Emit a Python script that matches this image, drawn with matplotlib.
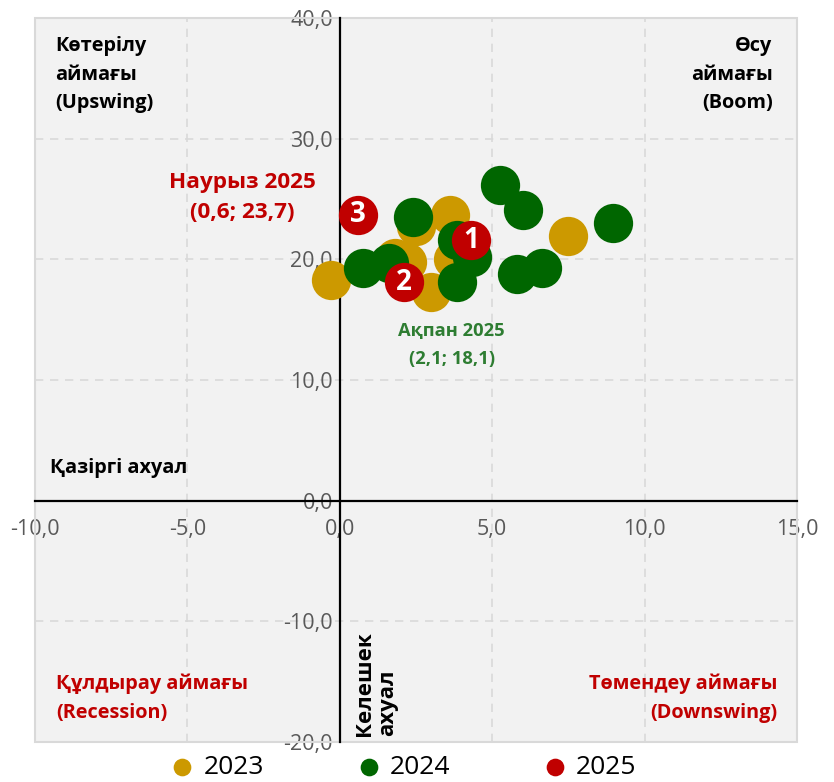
import matplotlib.pyplot as plt
from matplotlib.patches import Rectangle
from matplotlib.ticker import FuncFormatter

plt.rcParams['font.family'] = ['Open Sans', 'DejaVu Sans']

# 2023 points (x, y)
x_2023 = [-0.3, 2.5, 3.6, 7.5, 1.8, 2.2, 3.0, 3.7]
y_2023 = [18.3, 22.8, 23.7, 21.9, 20.1, 19.8, 17.3, 20.0]

# 2024 points
x_2024 = [5.25, 6.0, 8.95, 2.4, 3.85, 4.35, 0.75, 1.6, 3.85, 5.8, 6.65]
y_2024 = [26.2, 24.1, 23.0, 23.5, 21.6, 20.2, 19.3, 19.7, 18.1, 18.8, 19.3]

# 2025 points with labels
x_2025 = [4.3, 2.1, 0.6]
y_2025 = [21.6, 18.1, 23.7]
lbl_2025 = ['1', '2', '3']

xticks = [-10, -5, 0, 5, 10, 15]
yticks = [-20, -10, 0, 10, 20, 30, 40]

c23 = '#cc9900'
c24 = '#006600'
c25 = '#c00000'

fig = plt.figure(figsize=(8.34, 7.82), dpi=100)
ax = fig.add_axes([35/834, 1 - 742/782, 762/834, 724/782])
ax.set_xlim(-10, 15)
ax.set_ylim(-20, 40)
ax.set_facecolor('#f2f2f2')

for s in ['top', 'right']:
    ax.spines[s].set_visible(False)
ax.spines['left'].set_position(('data', 0))
ax.spines['bottom'].set_position(('data', 0))
for s in ['left', 'bottom']:
    ax.spines[s].set_color('black')
    ax.spines[s].set_linewidth(1.6)
    ax.spines[s].set_zorder(2)
ax.add_patch(Rectangle((0, 0), 1, 1, transform=ax.transAxes, fill=False,
                       edgecolor='#d9d9d9', lw=1.5, zorder=1, clip_on=False))

ax.set_xticks(xticks)
ax.set_yticks(yticks)
fmt = FuncFormatter(lambda v, p: f'{v:.1f}'.replace('.', ','))
ax.xaxis.set_major_formatter(fmt)
ax.yaxis.set_major_formatter(fmt)
ax.tick_params(axis='both', length=0, labelsize=15.5, labelcolor='#595959')
ax.tick_params(axis='x', pad=13)
ax.tick_params(axis='y', pad=5)
ax.grid(True, ls=(0, (5, 4)), color='#d9d9d9', lw=1.2, zorder=0)
ax.set_axisbelow(True)

s = 800
ax.scatter(x_2023, y_2023, s=s, color=c23, lw=0, zorder=3, label='2023')
ax.scatter(x_2024, y_2024, s=s, color=c24, lw=0, zorder=4, label='2024')
ax.scatter(x_2025, y_2025, s=s, color=c25, lw=0, zorder=5, label='2025')
for xv, yv, t in zip(x_2025, y_2025, lbl_2025):
    ax.text(xv, yv, t, color='white', fontsize=20, fontweight='bold',
            ha='center', va='center', zorder=6)

fs = 14.3
ax.text(-9.35, 38.5, 'Көтерілу\nаймағы\n(Upswing)', fontsize=fs, fontweight='bold',
        ha='left', va='top', linespacing=1.57)
ax.text(14.2, 38.5, 'Өсу\nаймағы\n(Boom)', fontsize=fs, fontweight='bold',
        ha='right', va='top', multialignment='right', linespacing=1.57)
ax.text(-3.2, 25.1, 'Наурыз 2025\n(0,6; 23,7)', fontsize=16.2, fontweight='bold',
        color=c25, ha='center', va='center', linespacing=1.55)
ax.text(3.67, 12.9, 'Ақпан 2025\n(2,1; 18,1)', fontsize=13.2, fontweight='bold',
        color='#2e7d32', ha='center', va='center', linespacing=1.7)
ax.text(-9.5, 2.7, 'Қазіргі ахуал', fontsize=fs, fontweight='bold',
        ha='left', va='center')
ax.text(1.2, -19.5, 'Келешек\nахуал', fontsize=16, fontweight='bold',
        rotation=90, ha='center', va='bottom', multialignment='left', linespacing=1.15)
ax.text(-9.3, -16.35, 'Құлдырау аймағы\n(Recession)', fontsize=fs, fontweight='bold',
        color=c25, ha='left', va='center', linespacing=1.58)
ax.text(14.35, -16.35, 'Төмендеу аймағы\n(Downswing)', fontsize=fs, fontweight='bold',
        color=c25, ha='right', va='center', multialignment='right', linespacing=1.58)

fig.legend(loc='lower center', bbox_to_anchor=(0.483, -0.028), ncol=3, frameon=False,
           fontsize=19, markerscale=0.45, handlelength=1.0, handletextpad=0.3,
           columnspacing=3.47)

fig.savefig('out.png', dpi=100)
